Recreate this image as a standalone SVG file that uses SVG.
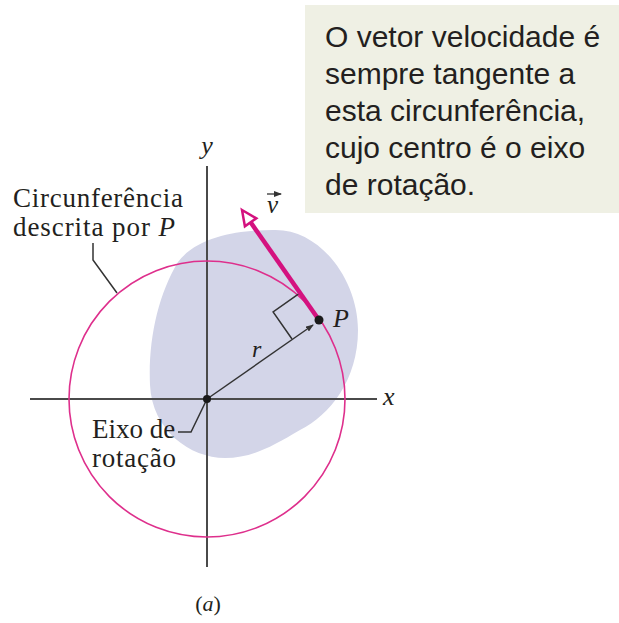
<svg xmlns="http://www.w3.org/2000/svg" width="619" height="623" viewBox="0 0 619 623">
<style>
.serif{font-family:"Liberation Serif","Times New Roman",serif;fill:#231f20}
.it{font-style:italic}
.sans{font-family:"Liberation Sans",Arial,sans-serif;font-size:30px;fill:#231f20}
.axis{stroke:#4a4a4a;stroke-width:2;fill:none}
.lead{stroke:#333;stroke-width:1.5;fill:none}
</style>
<defs>
<marker id="ra" markerWidth="8" markerHeight="6" refX="7" refY="3" orient="auto" markerUnits="userSpaceOnUse">
<path d="M0,0 L8,3 L0,6 Z" fill="#333"/>
</marker>
</defs>
<rect width="619" height="623" fill="#fff"/>

<g id="note">
<rect x="305" y="5" width="314" height="208" fill="#eff0e4"/>
<text class="sans" x="325" y="47">O vetor velocidade é</text>
<text class="sans" x="325" y="84">sempre tangente a</text>
<text class="sans" x="325" y="121">esta circunferência,</text>
<text class="sans" x="325" y="158">cujo centro é o eixo</text>
<text class="sans" x="325" y="195">de rotação.</text>
</g>

<g id="body">
<path d="M273,230 C320,228 358,280 358,330 C358,380 330,415 300,430 C270,448 250,458 225,458 C190,458 152,430 150,385 C148,340 158,295 178,262 C198,236 240,230 273,230 Z" fill="#d3d5e8"/>
</g>

<g id="axes">
<line class="axis" x1="207" y1="166" x2="207" y2="567"/>
<line class="axis" x1="30" y1="399" x2="377" y2="399"/>
<text class="serif it" x="207" y="154" font-size="26" text-anchor="middle">y</text>
<text class="serif it" x="383" y="405" font-size="26">x</text>
</g>

<g id="circle">
<circle cx="207" cy="399" r="138" fill="none" stroke="#de2f8c" stroke-width="1.6"/>
</g>

<g id="connectors">
<line class="lead" x1="207" y1="399" x2="313" y2="325" marker-end="url(#ra)"/>
<path class="lead" d="M292,339 L273.1,311.9 L300.1,292.9"/>
<polyline class="lead" points="93,243 93,260 117,293"/>
<polyline class="lead" points="178,432 191,432 207,399"/>
<line x1="319" y1="320" x2="250.6" y2="222.3" stroke="#d4127f" stroke-width="4.5"/>
<polygon points="242,210 256.3,218.3 244.9,226.3" fill="#fff" stroke="#d4127f" stroke-width="2.5" stroke-linejoin="miter"/>
</g>

<g id="center">
<circle cx="207" cy="399" r="4" fill="#1a1a1a"/>
<text class="serif" x="92" y="438" font-size="27">Eixo de</text>
<text class="serif" x="92" y="467" font-size="27" textLength="84" lengthAdjust="spacing">rotação</text>
</g>

<g id="P">
<circle cx="319" cy="320" r="4.5" fill="#1a1a1a"/>
<text class="serif it" x="333" y="327" font-size="26">P</text>
<text class="serif it" x="252" y="357" font-size="24">r</text>
</g>

<g id="v-label">
<text class="serif it" x="267" y="213" font-size="25">v</text>
<line x1="267" y1="194" x2="281" y2="194" stroke="#333" stroke-width="1.3" marker-end="url(#ra)"/>
</g>

<g id="circle-label">
<text class="serif" x="13" y="207" font-size="27" textLength="170" lengthAdjust="spacing">Circunferência</text>
<text class="serif" x="13" y="236" font-size="27" textLength="162" lengthAdjust="spacing">descrita por <tspan class="it">P</tspan></text>
</g>

<g id="caption">
<text class="serif" x="208" y="611" font-size="22" text-anchor="middle">(<tspan class="it">a</tspan>)</text>
</g>
</svg>
